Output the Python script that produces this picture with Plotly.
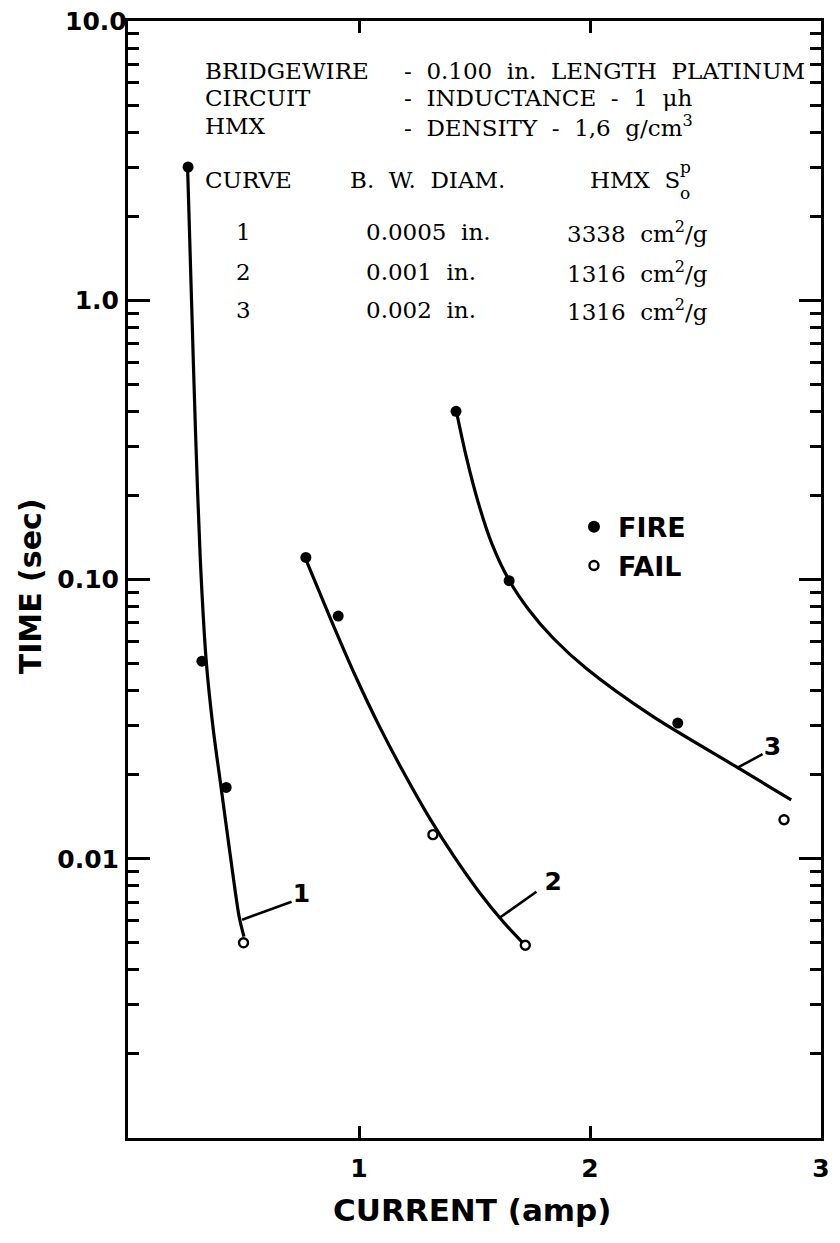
import plotly.graph_objects as go

# ---------------- data ----------------
# Curve 1 : B.W. diam 0.0005 in.
c1_fire_x = [0.26, 0.32, 0.425]
c1_fire_y = [3.0, 0.051, 0.018]
c1_fail_x = [0.50]
c1_fail_y = [0.005]
c1_line_x = [0.258, 0.275, 0.292, 0.313, 0.339, 0.369, 0.403, 0.442, 0.481, 0.502]
c1_line_y = [2.985, 1.0, 0.343, 0.118, 0.0506, 0.0291, 0.0180, 0.0104, 0.00621, 0.00526]

# Curve 2 : B.W. diam 0.001 in.
c2_fire_x = [0.77, 0.91]
c2_fire_y = [0.12, 0.074]
c2_fail_x = [1.32, 1.72]
c2_fail_y = [0.0122, 0.0049]
c2_line_x = [0.768, 0.876, 0.983, 1.090, 1.197, 1.305, 1.412, 1.519, 1.627, 1.712]
c2_line_y = [0.119, 0.0726, 0.0454, 0.0296, 0.0201, 0.0140, 0.01017, 0.00762, 0.00591, 0.00497]

# Curve 3 : B.W. diam 0.002 in.
c3_fire_x = [1.42, 1.65, 2.38]
c3_fire_y = [0.40, 0.099, 0.0306]
c3_fail_x = [2.84]
c3_fail_y = [0.0138]
c3_line_x = [1.421, 1.4635, 1.515, 1.575, 1.648, 1.734, 1.841, 1.983, 2.270, 2.627, 2.871]
c3_line_y = [0.402, 0.277, 0.190, 0.1344, 0.100, 0.0781, 0.0616, 0.0481, 0.0324, 0.0215, 0.01625]

# curve label leaders and labels
lead1_x = [0.494, 0.708]
lead1_y = [0.00605, 0.00702]
lead2_x = [1.609, 1.768]
lead2_y = [0.00615, 0.00762]
lead3_x = [2.635, 2.747]
lead3_y = [0.0211, 0.0237]
label_text = ["1", "2", "3"]
label_x = [0.751, 1.841, 2.79]
label_y = [0.00738, 0.00814, 0.0247]

# axis ticks
x_tickvals = [1, 2, 3]
x_ticktext = ["1", "2", "3"]
y_tickvals = [0.01, 0.1, 1]
y_ticktext = ["0.01", "0.10", "1.0"]
y_top_label = "10.0"
y_minor = [m * 10.0 ** e for e in range(-3, 1) for m in range(2, 10)]

# table text
hdr_left = ["BRIDGEWIRE", "CIRCUIT", "HMX"]
hdr_right = ["-  0.100  in.  LENGTH  PLATINUM",
             "-  INDUCTANCE  -  1  μh",
             "-  DENSITY  -  1,6  g/cm<sup>3</sup>"]
tbl_curve = ["1", "2", "3"]
tbl_diam = ["0.0005  in.", "0.001  in.", "0.002  in."]
tbl_s = ["3338  cm<sup>2</sup>/g", "1316  cm<sup>2</sup>/g", "1316  cm<sup>2</sup>/g"]

# ---------------- figure ----------------
# reference plot area (window pixels): left 128, right 827, top 18, bottom 1138
# the page body adds an 8 px margin, so the figure itself is 8 px smaller
OFF = 8
L, R, T, B = 128, 827, 18, 1138
W, H = 840 - OFF, 1243 - OFF


def px(xp):
    return (xp - L) / (R - L)


def py(yp):
    return (B - yp) / (B - T)


fig = go.Figure()

LINE_W = 3.2
for lx, ly in [(c1_line_x, c1_line_y), (c2_line_x, c2_line_y), (c3_line_x, c3_line_y)]:
    fig.add_trace(go.Scatter(x=lx, y=ly, mode="lines",
                             line=dict(color="black", width=LINE_W, shape="spline", smoothing=0.8),
                             hoverinfo="skip"))

for lx, ly in [(lead1_x, lead1_y), (lead2_x, lead2_y), (lead3_x, lead3_y)]:
    fig.add_trace(go.Scatter(x=lx, y=ly, mode="lines", line=dict(color="black", width=2.6), hoverinfo="skip"))

fire_x = c1_fire_x + c2_fire_x + c3_fire_x
fire_y = c1_fire_y + c2_fire_y + c3_fire_y
fail_x = c1_fail_x + c2_fail_x + c3_fail_x
fail_y = c1_fail_y + c2_fail_y + c3_fail_y

fig.add_trace(go.Scatter(x=fire_x, y=fire_y, mode="markers", name="FIRE",
                         marker=dict(symbol="circle", size=11, color="black", line=dict(width=0))))
fig.add_trace(go.Scatter(x=fail_x, y=fail_y, mode="markers", name="FAIL",
                         marker=dict(symbol="circle", size=9, color="white", line=dict(width=2.4, color="black"))))

fig.add_trace(go.Scatter(x=label_x, y=label_y, mode="text", text=label_text, textposition="middle center",
                         textfont=dict(family="DejaVu Sans", size=25, color="black", weight="bold"),
                         hoverinfo="skip"))

ann = []
SERIF = dict(family="DejaVu Serif", size=23, color="black")
hdr_y = [68, 95, 123]
for t, yy in zip(hdr_left, hdr_y):
    ann.append(dict(x=px(204), y=py(yy), text=t, font=SERIF))
for t, yy in zip(hdr_right, hdr_y):
    ann.append(dict(x=px(404), y=py(yy), text=t, font=SERIF))

ann.append(dict(x=px(204), y=py(177), text="CURVE", font=SERIF))
ann.append(dict(x=px(350), y=py(177), text="B.  W.  DIAM.", font=SERIF))
ann.append(dict(x=px(592), y=py(177), text="HMX  S", font=SERIF))
ann.append(dict(x=px(683), y=py(164), text="p", font=dict(family="DejaVu Serif", size=17, color="black")))
ann.append(dict(x=px(683), y=py(190), text="o", font=dict(family="DejaVu Serif", size=17, color="black")))

row_y = [230, 270, 308]
for c, d, s, yy in zip(tbl_curve, tbl_diam, tbl_s, row_y):
    ann.append(dict(x=px(245), y=py(yy), text=c, font=SERIF, xanchor="center"))
    ann.append(dict(x=px(366), y=py(yy), text=d, font=SERIF))
    ann.append(dict(x=px(569), y=py(yy), text=s, font=SERIF))

SANS_B = dict(family="DejaVu Sans", size=27, color="black", weight="bold")
ann.append(dict(x=px(620), y=py(526), text="FIRE", font=SANS_B))
ann.append(dict(x=px(620), y=py(565), text="FAIL", font=SANS_B))

TICKFONT = dict(family="DejaVu Sans", size=25, color="black", weight="bold")
# top decade label (would be dropped at the figure edge as a tick label)
ann.append(dict(x=px(129), y=py(19), text=y_top_label, xanchor="right", font=TICKFONT))

# axis titles
ann.append(dict(x=px(30), y=py(585), text="TIME (sec)", textangle=-90, xanchor="center",
                font=dict(family="DejaVu Sans", size=30, color="black", weight="bold")))
ann.append(dict(x=px(475), y=py(1210), text="CURRENT (amp)", xanchor="center",
                font=dict(family="DejaVu Sans", size=31, color="black", weight="bold")))

for a in ann:
    a.setdefault("xanchor", "left")
    a.update(xref="paper", yref="paper", yanchor="middle", showarrow=False)

shapes = [
    dict(type="circle", xref="paper", yref="paper", xsizemode="pixel", ysizemode="pixel",
         xanchor=px(598), yanchor=py(525), x0=-6, x1=6, y0=-6, y1=6,
         fillcolor="black", line=dict(color="black", width=0)),
    dict(type="circle", xref="paper", yref="paper", xsizemode="pixel", ysizemode="pixel",
         xanchor=px(598), yanchor=py(564), x0=-4.5, x1=4.5, y0=-4.5, y1=4.5,
         fillcolor="white", line=dict(color="black", width=2.4)),
]

fig.update_layout(
    width=W, height=H,
    margin=dict(l=L - OFF, r=840 - R, t=T - OFF, b=1243 - B, pad=0),
    paper_bgcolor="white", plot_bgcolor="white",
    showlegend=False,
    annotations=ann,
    shapes=shapes,
    xaxis=dict(range=[0, 3], tickmode="array", tickvals=x_tickvals, ticktext=x_ticktext,
               ticks="inside", ticklen=12, tickwidth=2.5, tickcolor="black",
               showline=True, linewidth=3, linecolor="black", mirror="ticks",
               showgrid=False, zeroline=False, ticklabelstandoff=6,
               tickfont=TICKFONT),
    yaxis=dict(type="log", range=[-3, 1], tickmode="array", tickvals=y_tickvals, ticktext=y_ticktext,
               ticks="inside", ticklen=22, tickwidth=2.5, tickcolor="black",
               showline=True, linewidth=3, linecolor="black", mirror="ticks",
               showgrid=False, zeroline=False, ticklabelstandoff=1,
               tickfont=TICKFONT,
               minor=dict(tickmode="array", tickvals=y_minor, ticks="inside", ticklen=11,
                          tickwidth=2.5, tickcolor="black", showgrid=False)),
)

fig.write_html("out.html")
